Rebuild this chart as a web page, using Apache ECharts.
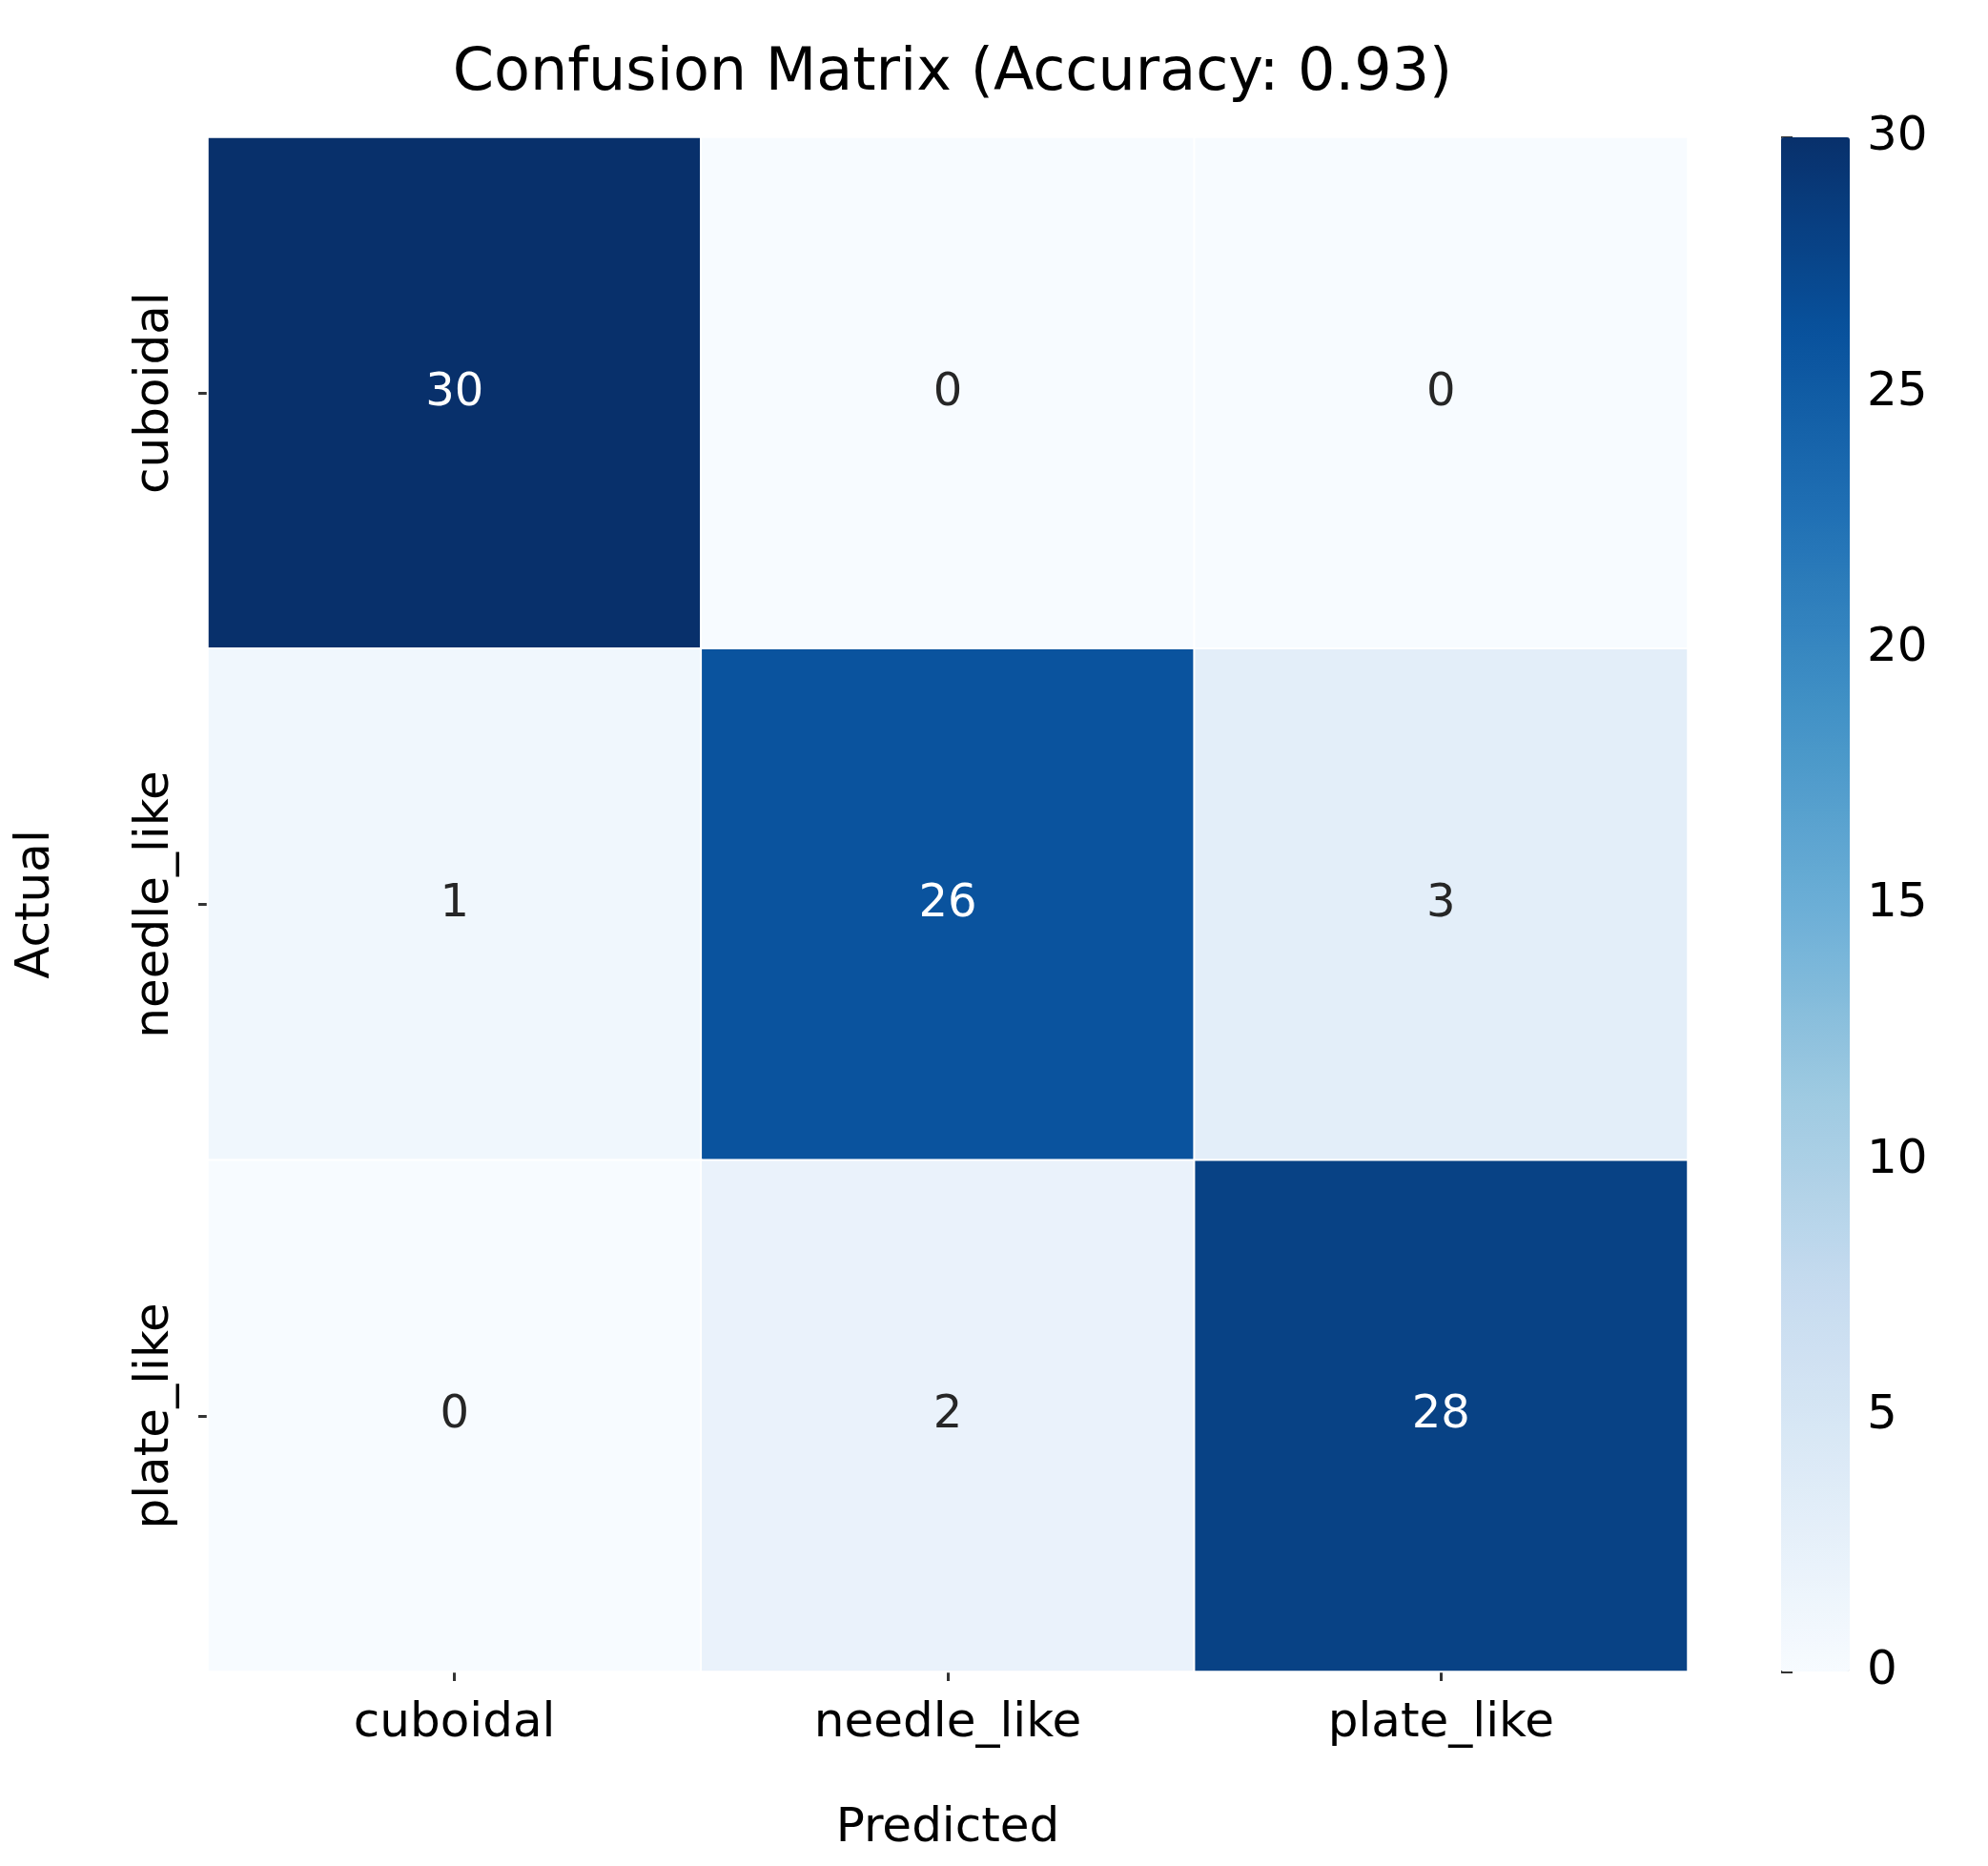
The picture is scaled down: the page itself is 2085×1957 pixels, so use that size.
<!DOCTYPE html>
<html>
<head>
<meta charset="utf-8">
<script src="https://cdn.jsdelivr.net/npm/echarts@6/dist/echarts.min.js"></script>
<style>html,body{margin:0;padding:0;background:#fff}#chart{width:2085px;height:1957px}</style>
</head>
<body>
<div id="chart"></div>
<script>
// classes, actual rows top->bottom, predicted cols left->right
var classes = ['cuboidal', 'needle_like', 'plate_like'];
var matrix = [
  [30, 0, 0],
  [1, 26, 3],
  [0, 2, 28]
];
var barTicks = [0, 5, 10, 15, 20, 25, 30];
var blues = ['#f7fbff','#deebf7','#c6dbef','#9ecae1','#6baed6','#4292c6','#2171b5','#08519c','#08306b'];

var cells = [];
matrix.forEach(function (row, r) {
  row.forEach(function (v, c) {
    cells.push({ value: [c, r, v], label: { color: v > 15 ? '#ffffff' : '#262626' } });
  });
});

var font = 'DejaVu Sans';
var option = {
  backgroundColor: '#fff',
  textStyle: { fontFamily: font },
  title: {
    text: 'Confusion Matrix (Accuracy: 0.93)',
    left: 994, top: 42, textAlign: 'center',
    textStyle: { fontFamily: font, fontSize: 62, fontWeight: 'normal', color: '#000' }
  },
  grid: [
    { left: 218, top: 144, width: 1552, height: 1609 },
    { left: 1868, top: 144, width: 72, height: 1609 }
  ],
  xAxis: [{
    type: 'category', data: classes, gridIndex: 0,
    name: 'Predicted', nameLocation: 'middle', nameGap: 140,
    nameTextStyle: { fontSize: 50, color: '#000', fontFamily: font },
    axisLine: { show: false },
    axisTick: { show: true, alignWithLabel: true, length: 10, lineStyle: { color: '#333', width: 3 } },
    axisLabel: { fontSize: 50, color: '#000', margin: 30, fontFamily: font },
    splitLine: { show: false }
  }, {
    type: 'value', gridIndex: 1, show: false
  }],
  yAxis: [{
    type: 'category', data: classes, gridIndex: 0, inverse: true,
    name: 'Actual', nameLocation: 'middle', nameGap: 155,
    nameTextStyle: { fontSize: 50, color: '#000', fontFamily: font },
    axisLine: { show: false },
    axisTick: { show: true, alignWithLabel: true, length: 10, lineStyle: { color: '#333', width: 3 } },
    axisLabel: { fontSize: 50, color: '#000', rotate: 90, margin: 30, fontFamily: font },
    splitLine: { show: false }
  }, {
    type: 'value', gridIndex: 1, position: 'right', min: 0, max: 30, interval: 5,
    axisLine: { show: false },
    axisTick: { show: true, length: 12, lineStyle: { color: '#333', width: 3 } },
    axisLabel: { fontSize: 50, color: '#000', margin: 18, fontFamily: font,
      formatter: function (v) { return barTicks.indexOf(v) >= 0 ? String(v) : ''; } },
    splitLine: { show: false }
  }],
  visualMap: {
    type: 'continuous', min: 0, max: 30, seriesIndex: 0,
    calculable: false, show: true, text: null, showLabel: false,
    left: 1868, top: 144, itemWidth: 72, itemHeight: 1609, padding: 0,
    inRange: { color: blues }
  },
  series: [{
    type: 'heatmap', xAxisIndex: 0, yAxisIndex: 0,
    data: cells,
    itemStyle: { borderColor: '#ffffff', borderWidth: 2 },
    label: { show: true, fontSize: 48, fontFamily: font, formatter: function (p) { return p.value[2]; } },
    emphasis: { disabled: true }
  }]
};
echarts.init(document.getElementById('chart')).setOption(option);
</script>
</body>
</html>
